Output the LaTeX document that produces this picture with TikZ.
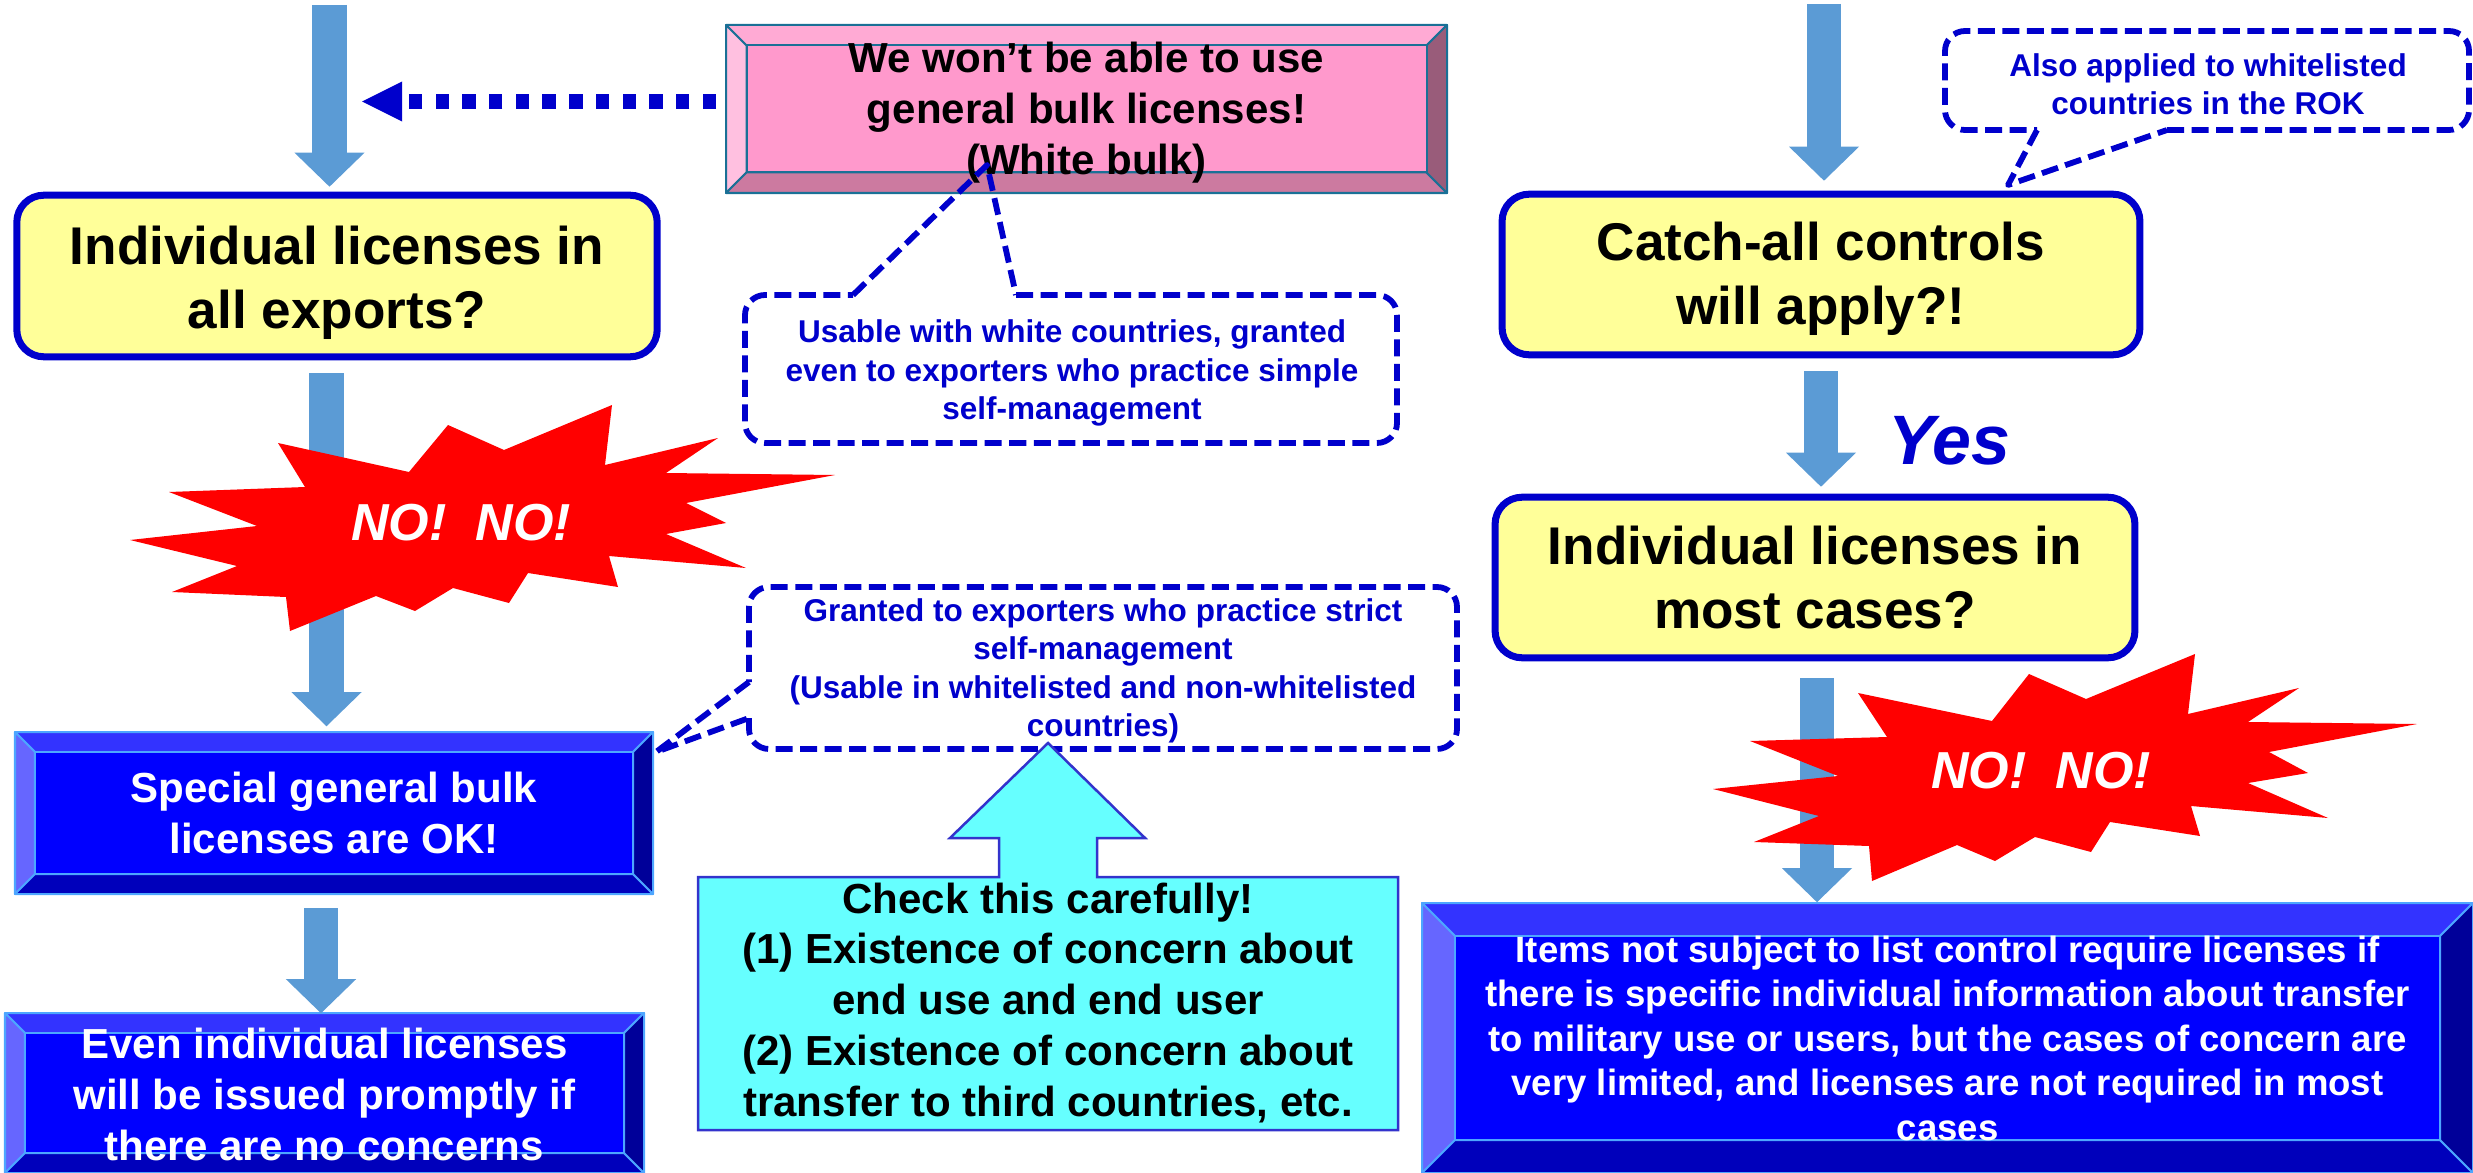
\documentclass[tikz,border=0pt]{standalone}
\usepackage{fontspec}
\setmainfont{Liberation Sans}
\usetikzlibrary{arrows.meta}

\definecolor{arrowblue}{HTML}{5B9BD5}
\definecolor{navy}{HTML}{0000CC}
\definecolor{ylw}{HTML}{FFFF99}
\definecolor{pinkF}{HTML}{FF99CC}
\definecolor{pinkT}{HTML}{FFAAD4}
\definecolor{pinkL}{HTML}{FFC0E0}
\definecolor{pinkB}{HTML}{CC7AA0}
\definecolor{pinkR}{HTML}{995C7A}
\definecolor{pinkO}{HTML}{1A7096}
\definecolor{blueF}{HTML}{0000FF}
\definecolor{blueT}{HTML}{3333FF}
\definecolor{blueL}{HTML}{6666FF}
\definecolor{blueB}{HTML}{0000BB}
\definecolor{blueR}{HTML}{000099}
\definecolor{blueO}{HTML}{4DA6FF}
\definecolor{cyanF}{HTML}{66FFFF}
\definecolor{cyanO}{HTML}{3333CC}
\definecolor{burst}{HTML}{FF0000}

\newcommand\ftY{\fontsize{15.1pt}{18.2pt}\selectfont\bfseries}
\newcommand\ftM{\fontsize{11.95pt}{14.5pt}\selectfont\bfseries}
\newcommand\ftC{\fontsize{8.96pt}{10.95pt}\selectfont\bfseries}
\newcommand\ftE{\fontsize{10.4pt}{12.66pt}\selectfont\bfseries}
\newcommand\ftN{\fontsize{14.8pt}{17pt}\selectfont\bfseries\itshape}
\newcommand\ftYes{\fontsize{19.9pt}{24pt}\selectfont\bfseries\itshape}

% bevelled box: x1 y1 x2 y2 bevel colourprefix
\newcommand\bevelbox[6]{%
  \begin{scope}[draw=#6O, line width=0.02cm, line join=round]
    \filldraw[fill=#6T] (#1,#2) -- (#3,#2) -- (#3-#5,#2+#5) -- (#1+#5,#2+#5) -- cycle;
    \filldraw[fill=#6L] (#1,#2) -- (#1+#5,#2+#5) -- (#1+#5,#4-#5) -- (#1,#4) -- cycle;
    \filldraw[fill=#6B] (#1,#4) -- (#1+#5,#4-#5) -- (#3-#5,#4-#5) -- (#3,#4) -- cycle;
    \filldraw[fill=#6R] (#3,#2) -- (#3,#4) -- (#3-#5,#4-#5) -- (#3-#5,#2+#5) -- cycle;
    \filldraw[fill=#6F] (#1+#5,#2+#5) rectangle (#3-#5,#4-#5);
  \end{scope}}

\tikzset{
  txtbase/.style={inner sep=0pt, align=center},
  ybox/.style={txtbase, draw=navy, fill=ylw, line width=0.07cm, rounded corners=0.27cm, font=\ftY},
  btxt/.style={txtbase, font=\ftM},
  ctxt/.style={txtbase, font=\ftC, text=navy},
  etxt/.style={txtbase, font=\ftE, text=white},
  notxt/.style={txtbase, font=\ftN, text=white},
  fat/.style={draw=arrowblue, line width=0.34cm, -{Triangle[width=0.70cm,length=0.34cm,line width=0pt]}},
  dotarr/.style={draw=navy, line width=0.14cm, dash pattern=on 0.133cm off 0.134cm, -{Triangle[width=0.40cm,length=0.40cm,line width=0pt]}},
  callout/.style={draw=navy, line width=0.058cm, dash pattern=on 0.17cm off 0.075cm, line join=round},
  burstfill/.style={fill=burst},
}

\begin{document}
\begin{tikzpicture}[x=0.01cm,y=-0.01cm]
\useasboundingbox (0,0) rectangle (2473,1173);

% ---------- boxes ----------
\bevelbox{726}{25}{1447}{193}{20.5}{pink}
\node[btxt, minimum width=7.21cm, minimum height=1.68cm] (pink) at (1086.5,113) {We won’t be able to use\\general bulk licenses!\\(White bulk)};

\node[ybox, minimum width=6.40cm, minimum height=1.615cm] (y1) at (337,276) {\rule{0pt}{15pt}Individual licenses in\\all exports?};
\node[ybox, minimum width=6.375cm, minimum height=1.605cm] (y2) at (1821,274.5) {\rule{0pt}{13.3pt}Catch-all controls\\will apply?!};
\node[ybox, minimum width=6.395cm, minimum height=1.605cm] (y3) at (1815,577.5) {Individual licenses in\\most cases?};

\bevelbox{15}{732}{653}{894}{20}{blue}
\node[btxt, text=white, minimum width=6.38cm, minimum height=1.62cm] (special) at (334,813) {Special general bulk\\licenses are OK!};

\bevelbox{5}{1013}{644}{1173}{20}{blue}
\node[btxt, text=white, minimum width=6.39cm, minimum height=1.60cm] (even) at (324.5,1094) {Even individual licenses\\will be issued promptly if\\there are no concerns};

\bevelbox{1422}{903}{2473}{1173}{33}{blue}
\node[etxt, minimum width=10.51cm, minimum height=2.70cm] (items) at (1947.5,1038) {Items not subject to list control require licenses if\\there is specific individual information about transfer\\to military use or users, but the cases of concern are\\very limited, and licenses are not required in most\\cases};

% ---------- fat arrows ----------
\coordinate (a1s) at (329.5,5);
\coordinate (a2s) at (326.5,373);
\coordinate (a3s) at (321,908);
\coordinate (a4s) at (1824,4);
\coordinate (a5s) at (1821,371);
\coordinate (a6s) at (1817,678);
\draw[fat, shorten >=0.05cm] (a1s) -- (a1s |- y1.north);
\draw[fat, shorten >=0.05cm] (a2s) -- (a2s |- special.north);
\draw[fat] (a3s) -- (a3s |- even.north);
\draw[fat, shorten >=0.10cm] (a4s) -- (a4s |- y2.north);
\draw[fat, shorten >=0.07cm] (a5s) -- (a5s |- y3.north);
\draw[fat] (a6s) -- (a6s |- items.north);

% dotted arrow
\coordinate (dT) at (362,101.5);
\draw[dotarr, shorten <=0.09cm] (pink.west |- dT) -- (dT);

% ---------- starbursts ----------
\fill[burstfill] (130,540) -- (257,526) -- (169,492) -- (305,487) -- (278,443) -- (409,472) -- (448,425) -- (504,450) -- (612,405) -- (605,465) -- (718,438) -- (666,473) -- (835,475) -- (686,503) -- (726,523) -- (666,534) -- (746,568) -- (609,556) -- (618,587) -- (528,573) -- (509,603) -- (453,588) -- (415,611) -- (376,596) -- (290,631) -- (286,597) -- (172,592) -- (237,566) -- cycle;
\node[notxt] (no1) at (461,523) {NO!\ \ NO!};

\fill[burstfill] (1713,789) -- (1838,776) -- (1750,741) -- (1887,737) -- (1858,693) -- (1992,721) -- (2029,674) -- (2086,699) -- (2195,654) -- (2188,714) -- (2299,688) -- (2248,722) -- (2417,724) -- (2269,752) -- (2308,773) -- (2248,783) -- (2328,818) -- (2191,806) -- (2200,836) -- (2110,822) -- (2091,852) -- (2035,837) -- (1995,861) -- (1957,845) -- (1872,881) -- (1869,846) -- (1754,842) -- (1819,816) -- cycle;
\node[notxt] (no2) at (2041,771) {NO!\ \ NO!};

\node[txtbase, font=\ftYes, text=navy] (yes) at (1949,440.5) {Yes};

% ---------- callouts ----------
\draw[callout, rounded corners=0.2cm] (1016,295) -- (1397,295) -- (1397,443) -- (745,443) -- (745,295) -- (853,295);
\coordinate (c1tip) at (987,165);
\draw[callout] (853,295) -- (c1tip) -- (1016,295);
\node[ctxt] (c1) at (1072,373) {Usable with white countries, granted\\even to exporters who practice simple\\self-management};

\draw[callout, rounded corners=0.2cm] (749,718) -- (749,749) -- (1457,749) -- (1457,587) -- (749,587) -- (749,682);
\coordinate (c2tip) at (656,752);
\draw[callout] (749,682) -- (c2tip) -- (749,718);
\node[ctxt] (c2) at (1103,671) {Granted to exporters who practice strict\\self-management\\(Usable in whitelisted and non-whitelisted\\countries)};

\draw[callout, rounded corners=0.2cm] (2167,130) -- (2469,130) -- (2469,31) -- (1945,31) -- (1945,130) -- (2037,130);
\coordinate (c3tip) at (2008,185);
\draw[callout] (2037,130) -- (c3tip) -- (2167,130);
\node[ctxt] (c3) at (2208,84) {Also applied to whitelisted\\countries in the ROK};

% ---------- cyan up-arrow callout ----------
\filldraw[fill=cyanF, draw=cyanO, line width=0.025cm, line join=miter] (698,877) -- (999,877) -- (999,838) -- (950,838) -- (1048,743) -- (1145,838) -- (1097,838) -- (1097,877) -- (1398,877) -- (1398,1130) -- (698,1130) -- cycle;
\node[btxt] (check) at (1048,1003) {Check this carefully!\\(1) Existence of concern about\\end use and end user\\(2) Existence of concern about\\transfer to third countries, etc.};

\end{tikzpicture}
\end{document}
